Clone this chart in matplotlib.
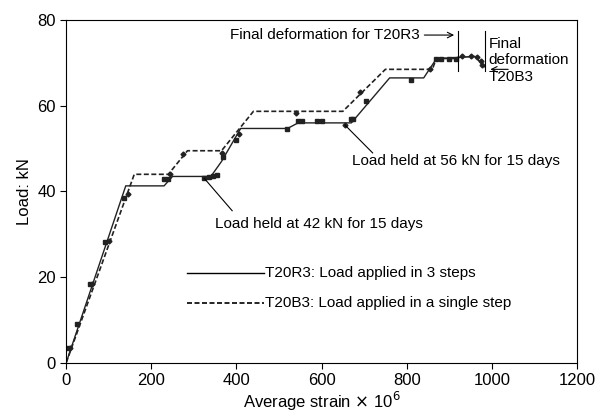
import matplotlib.pyplot as plt

# T20R3 - solid line (3 steps)
r3_x = [0, 140, 230, 250, 340, 365, 410, 520, 545, 670, 760, 840, 870, 920]
r3_y = [0, 41.3, 41.3, 43.5, 43.5, 47, 54.7, 54.7, 56, 56, 66.5, 66.5, 71, 71]
r3_mx = [5, 25, 55, 92, 135, 230, 240, 325, 335, 345, 355, 368, 400, 520, 545, 555, 590,
         600, 670, 675, 705, 810, 870, 880, 900, 915]
r3_my = [3.5, 9, 18.5, 28.3, 38.5, 43, 43, 43.2, 43.3, 43.5, 43.8, 48, 52, 54.5, 56.5, 56.5,
         56.5, 56.5, 56.8, 57, 61.2, 66, 71, 71, 71, 71]

# T20B3 - dashed line (single step)
b3_x = [0, 160, 240, 285, 365, 440, 650, 750, 860, 870, 960, 985]
b3_y = [0, 44, 44, 49.5, 49.5, 58.7, 58.7, 68.5, 68.5, 71, 71.5, 69]
b3_mx = [10, 60, 100, 145, 245, 275, 365, 405, 540, 655, 690, 855, 930, 950, 965, 975, 978]
b3_my = [3.5, 18.5, 28.5, 39.5, 44, 48.8, 49, 53.5, 58.3, 55.5, 63.3, 68.5, 71.5, 71.5,
         71.3, 70.5, 69.5]

plt.rcParams['font.family'] = 'Liberation Sans'
fig = plt.figure(figsize=(5.96, 4.18), dpi=100)
ax = fig.add_axes([0.111, 0.132, 0.857, 0.82])

ax.plot(r3_x, r3_y, color='#222222', lw=1)
ax.plot(b3_x, b3_y, color='#222222', lw=1.2, ls=(0, (3, 1.5)))
ax.plot(r3_mx, r3_my, ls='none', marker='s', ms=3.5, color='#222222')
ax.plot(b3_mx, b3_my, ls='none', marker='D', ms=2.5, color='#222222')

ax.set_xlim(0, 1200)
ax.set_ylim(0, 80)
ax.set_xticks(range(0, 1201, 200))
ax.set_yticks(range(0, 81, 20))
ax.tick_params(labelsize=12, direction='out', length=4)
ax.set_xlabel(r'Average strain $\times$ 10$^6$', fontsize=12, labelpad=1)
ax.set_ylabel('Load: kN', fontsize=12)

fs = 11
# final deformation markers
ax.plot([920, 920], [68, 77.5], color='k', lw=0.8)
ax.plot([985, 985], [68, 77.5], color='k', lw=0.8)
ax.annotate('', xy=(918, 76.5), xytext=(835, 76.5),
            arrowprops=dict(arrowstyle='->', lw=0.8))
ax.text(830, 76.5, 'Final deformation for T20R3', ha='right', va='center', fontsize=fs)
ax.text(992, 76, 'Final\ndeformation\nT20B3', ha='left', va='top', fontsize=fs, linespacing=1.2)
ax.annotate('', xy=(990, 68.5), xytext=(1045, 68.5),
            arrowprops=dict(arrowstyle='->', lw=0.8))

ax.plot([720, 655], [49, 55.5], color='k', lw=0.8)
ax.text(672, 47, 'Load held at 56 kN for 15 days', ha='left', va='center', fontsize=fs)
ax.plot([390, 325], [35.5, 43], color='k', lw=0.8)
ax.text(350, 32.5, 'Load held at 42 kN for 15 days', ha='left', va='center', fontsize=fs)

ax.plot([285, 465], [21, 21], color='k', lw=1)
ax.text(467, 21, 'T20R3: Load applied in 3 steps', ha='left', va='center', fontsize=fs)
ax.plot([285, 465], [14, 14], color='k', lw=1.2, ls=(0, (3, 1.5)))
ax.text(467, 14, 'T20B3: Load applied in a single step', ha='left', va='center', fontsize=fs)

fig.savefig('out.png', dpi=100)
